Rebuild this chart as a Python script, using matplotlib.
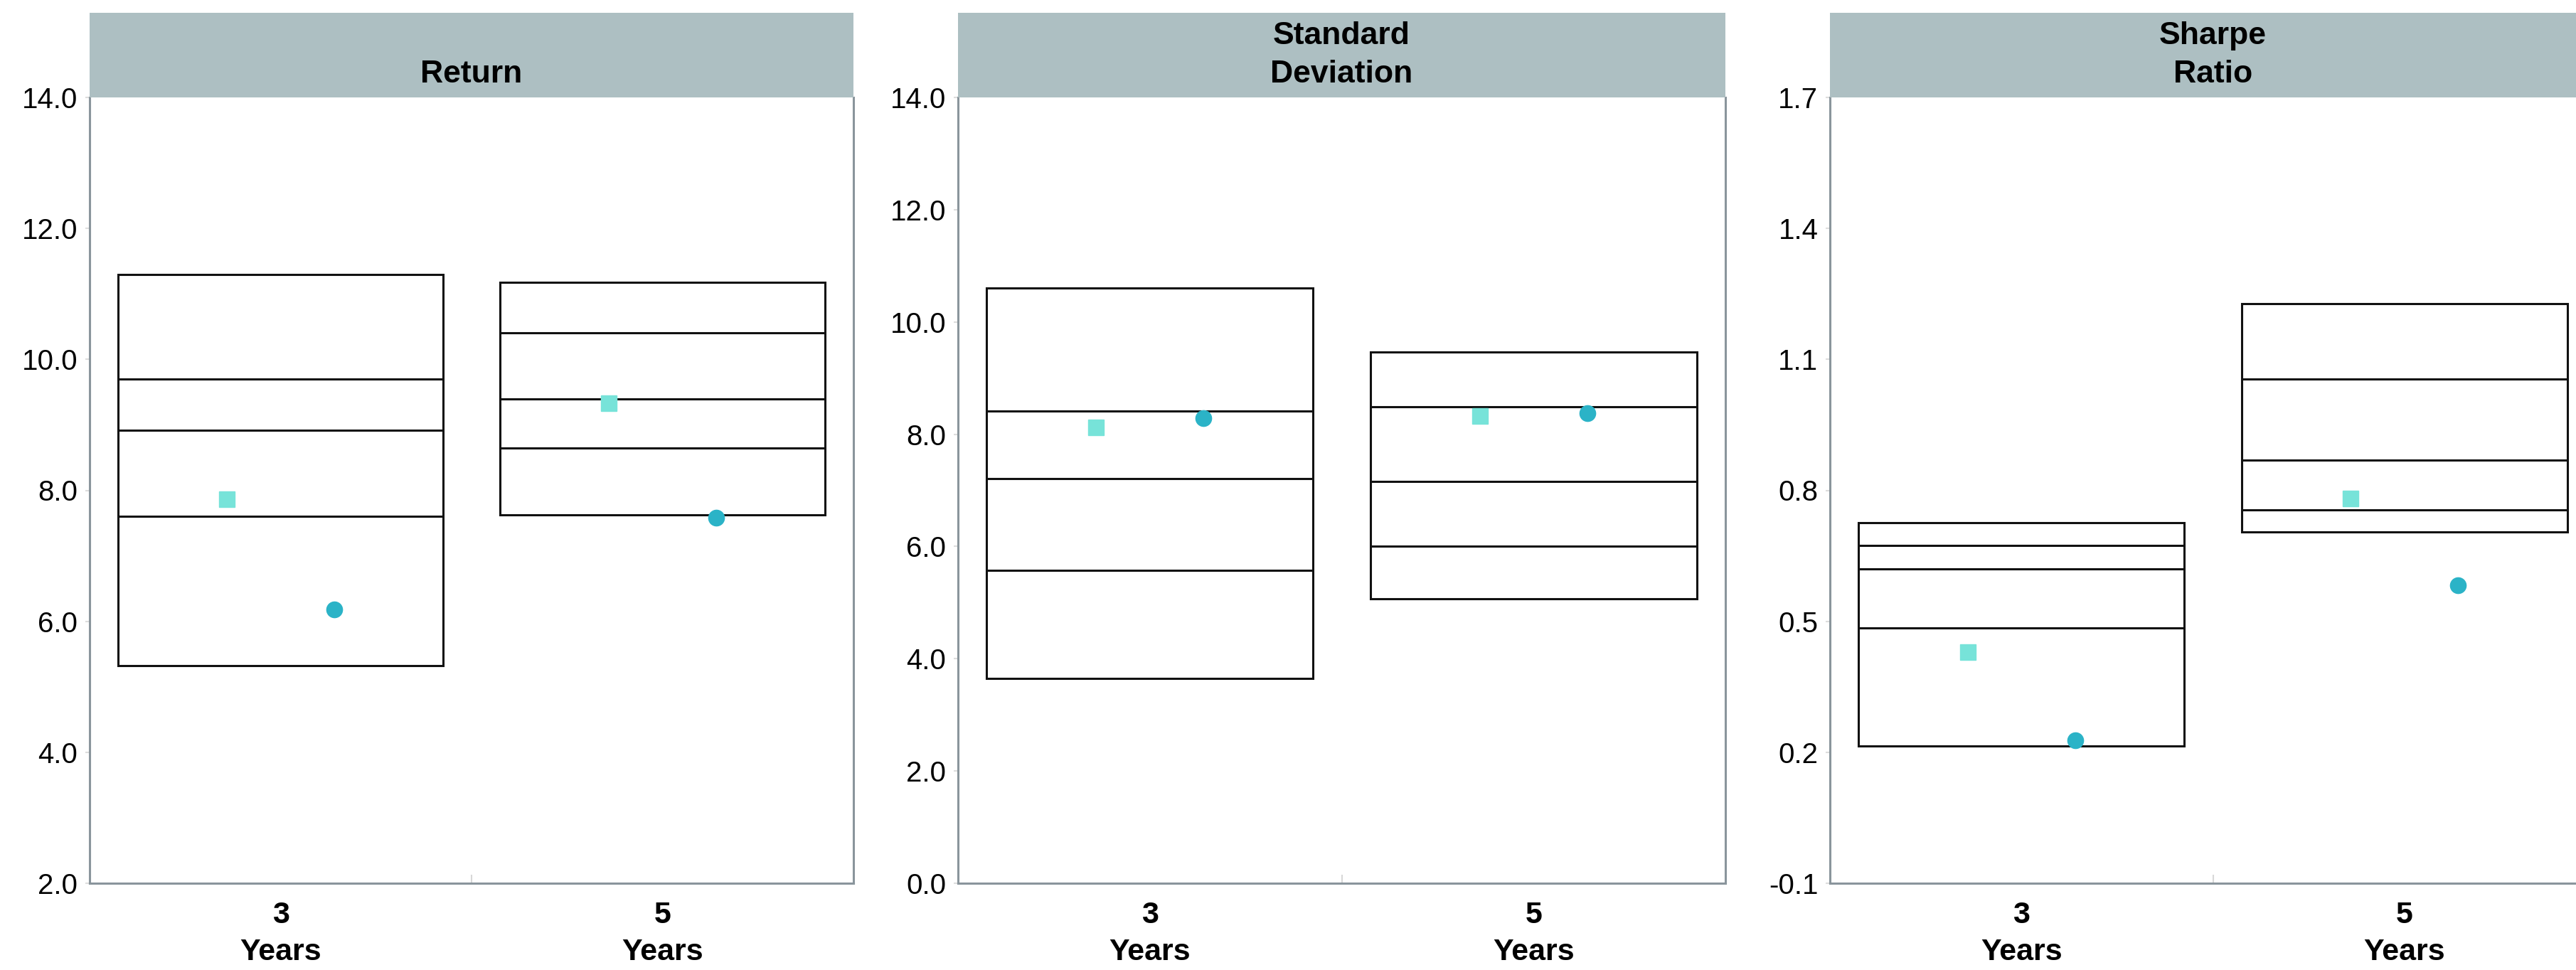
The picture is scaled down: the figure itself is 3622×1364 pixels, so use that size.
import matplotlib
matplotlib.use("Agg")
import matplotlib.pyplot as plt
from matplotlib.patches import Rectangle
from matplotlib.ticker import FormatStrFormatter, FixedLocator
import numpy as np

plt.rcParams['font.family'] = ['Liberation Sans', 'DejaVu Sans']

# categories along the x axis
periods = ["3\nYears", "5\nYears"]

# percentile bands per period: 5th, 25th, median, 75th, 95th
return_bands = [[5.32, 7.60, 8.92, 9.70, 11.30],
                [7.62, 8.65, 9.40, 10.41, 11.18]]
return_fund = [7.86, 9.33]      # square marker
return_bench = [6.18, 7.58]     # round marker

stdev_bands = [[3.65, 5.57, 7.21, 8.41, 10.60],
               [5.07, 6.01, 7.16, 8.49, 9.46]]
stdev_fund = [8.12, 8.32]
stdev_bench = [8.28, 8.38]

sharpe_bands = [[0.214, 0.485, 0.620, 0.673, 0.726],
                [0.704, 0.756, 0.869, 1.055, 1.227]]
sharpe_fund = [0.429, 0.781]
sharpe_bench = [0.227, 0.583]

titles = ["Return", "Standard\nDeviation", "Sharpe\nRatio"]
yticks = [[2.0, 4.0, 6.0, 8.0, 10.0, 12.0, 14.0],
          [0.0, 2.0, 4.0, 6.0, 8.0, 10.0, 12.0, 14.0],
          [-0.1, 0.2, 0.5, 0.8, 1.1, 1.4, 1.7]]

panels = [(return_bands, return_fund, return_bench),
          (stdev_bands, stdev_fund, stdev_bench),
          (sharpe_bands, sharpe_fund, sharpe_bench)]

W, H = 3622, 1364
fig = plt.figure(figsize=(W / 100, H / 100), dpi=100)

# axes placement in pixels (left, width); all share top/bottom
ax_left = [126, 1347, 2573]
ax_width = [1074, 1079, 1077]
ax_top, ax_bottom = 137, 1242
header_top = 18

header_col = "#adbfc2"
spine_col = "#8a959c"
fund_col = "#77e3d9"
bench_col = "#2bb3c7"
box_w = 0.85
off = 0.14

for i in range(3):
    bands, fund, bench = panels[i]
    ax = fig.add_axes([ax_left[i] / W, (H - ax_bottom) / H,
                       ax_width[i] / W, (ax_bottom - ax_top) / H])
    x = np.arange(len(periods))

    # floating boxes (5th..95th) plus inner lines for 25th, median, 75th
    for j in range(len(periods)):
        b = bands[j]
        ax.bar(x[j], b[4] - b[0], bottom=b[0], width=box_w, fill=False,
               edgecolor="#111111", linewidth=2.2, zorder=2)
        ax.hlines(b[1:4], x[j] - box_w / 2, x[j] + box_w / 2,
                  color="#111111", linewidth=2.2, zorder=2)

    ax.plot(x - off, fund, linestyle="none", marker="s", markersize=16,
            color=fund_col, zorder=3)
    ax.plot(x + off, bench, linestyle="none", marker="o", markersize=16,
            color=bench_col, zorder=3)

    ax.set_xlim(-0.5, 1.5)
    ax.set_ylim(yticks[i][0], yticks[i][-1])
    ax.set_yticks(yticks[i])
    ax.yaxis.set_major_formatter(FormatStrFormatter("%.1f"))
    ax.tick_params(axis="y", length=4, width=1.5, color="#dddddd",
                   labelsize=29, pad=8)

    ax.set_xticks(x)
    ax.set_xticklabels(periods, fontsize=31, fontweight="bold", linespacing=1.4)
    ax.tick_params(axis="x", length=0, pad=18)
    ax.xaxis.set_minor_locator(FixedLocator([0.5]))
    ax.tick_params(axis="x", which="minor", direction="in", length=9,
                   width=1.5, color="#d8d8d8")

    ax.spines["top"].set_visible(False)
    for s in ["left", "right", "bottom"]:
        ax.spines[s].set_color(spine_col)
        ax.spines[s].set_linewidth(2.2)

    # grey header band with the panel title
    hh = (ax_top - header_top) / (ax_bottom - ax_top)
    ax.add_patch(Rectangle((0, 1), 1, hh, transform=ax.transAxes,
                           facecolor=header_col, edgecolor="none",
                           clip_on=False, zorder=5))
    ax.text(0.5, 1.011, titles[i], transform=ax.transAxes, ha="center",
            va="bottom", fontsize=32, fontweight="bold", linespacing=1.4,
            zorder=6)

fig.savefig("out.png", dpi=100, facecolor="white")
